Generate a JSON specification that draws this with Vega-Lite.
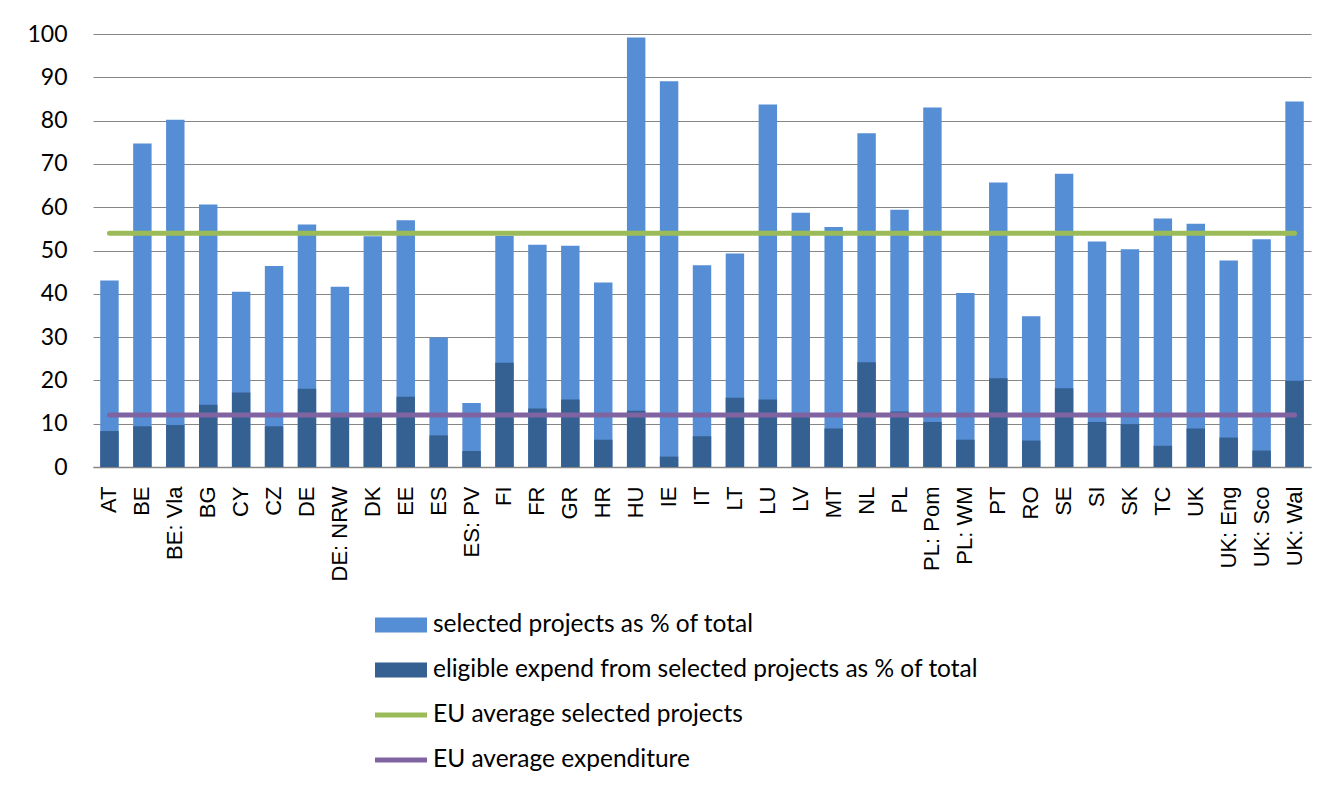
{
  "$schema": "https://vega.github.io/schema/vega-lite/v6.json",
  "autosize": {"type": "none"},
  "width": 1218,
  "height": 433,
  "padding": {"left": 93, "top": 34, "right": 33, "bottom": 333},
  "background": "white",
  "config": {
    "view": {"stroke": null},
    "axis": {"labelFont": "Lato", "labelColor": "#000000"},
    "legend": {"labelFont": "Lato"}
  },
  "data": {
    "values": [
      {"region": "AT", "selected": 43.1, "eligible": 8.3, "eu_selected": 54, "eu_expend": 12},
      {"region": "BE", "selected": 74.7, "eligible": 9.4, "eu_selected": 54, "eu_expend": 12},
      {"region": "BE: Vla", "selected": 80.2, "eligible": 9.7, "eu_selected": 54, "eu_expend": 12},
      {"region": "BG", "selected": 60.6, "eligible": 14.4, "eu_selected": 54, "eu_expend": 12},
      {"region": "CY", "selected": 40.5, "eligible": 17.2, "eu_selected": 54, "eu_expend": 12},
      {"region": "CZ", "selected": 46.4, "eligible": 9.4, "eu_selected": 54, "eu_expend": 12},
      {"region": "DE", "selected": 56.0, "eligible": 18.1, "eu_selected": 54, "eu_expend": 12},
      {"region": "DE: NRW", "selected": 41.6, "eligible": 11.8, "eu_selected": 54, "eu_expend": 12},
      {"region": "DK", "selected": 53.3, "eligible": 11.8, "eu_selected": 54, "eu_expend": 12},
      {"region": "EE", "selected": 57.0, "eligible": 16.2, "eu_selected": 54, "eu_expend": 12},
      {"region": "ES", "selected": 29.9, "eligible": 7.3, "eu_selected": 54, "eu_expend": 12},
      {"region": "ES: PV", "selected": 14.8, "eligible": 3.7, "eu_selected": 54, "eu_expend": 12},
      {"region": "FI", "selected": 53.4, "eligible": 24.1, "eu_selected": 54, "eu_expend": 12},
      {"region": "FR", "selected": 51.3, "eligible": 13.5, "eu_selected": 54, "eu_expend": 12},
      {"region": "GR", "selected": 51.1, "eligible": 15.6, "eu_selected": 54, "eu_expend": 12},
      {"region": "HR", "selected": 42.6, "eligible": 6.3, "eu_selected": 54, "eu_expend": 12},
      {"region": "HU", "selected": 99.2, "eligible": 13.0, "eu_selected": 54, "eu_expend": 12},
      {"region": "IE", "selected": 89.1, "eligible": 2.4, "eu_selected": 54, "eu_expend": 12},
      {"region": "IT", "selected": 46.6, "eligible": 7.1, "eu_selected": 54, "eu_expend": 12},
      {"region": "LT", "selected": 49.3, "eligible": 16.0, "eu_selected": 54, "eu_expend": 12},
      {"region": "LU", "selected": 83.7, "eligible": 15.6, "eu_selected": 54, "eu_expend": 12},
      {"region": "LV", "selected": 58.7, "eligible": 11.8, "eu_selected": 54, "eu_expend": 12},
      {"region": "MT", "selected": 55.4, "eligible": 8.9, "eu_selected": 54, "eu_expend": 12},
      {"region": "NL", "selected": 77.1, "eligible": 24.2, "eu_selected": 54, "eu_expend": 12},
      {"region": "PL", "selected": 59.4, "eligible": 12.8, "eu_selected": 54, "eu_expend": 12},
      {"region": "PL: Pom", "selected": 83.0, "eligible": 10.4, "eu_selected": 54, "eu_expend": 12},
      {"region": "PL: WM", "selected": 40.2, "eligible": 6.3, "eu_selected": 54, "eu_expend": 12},
      {"region": "PT", "selected": 65.7, "eligible": 20.5, "eu_selected": 54, "eu_expend": 12},
      {"region": "RO", "selected": 34.8, "eligible": 6.1, "eu_selected": 54, "eu_expend": 12},
      {"region": "SE", "selected": 67.7, "eligible": 18.2, "eu_selected": 54, "eu_expend": 12},
      {"region": "SI", "selected": 52.1, "eligible": 10.4, "eu_selected": 54, "eu_expend": 12},
      {"region": "SK", "selected": 50.3, "eligible": 9.9, "eu_selected": 54, "eu_expend": 12},
      {"region": "TC", "selected": 57.4, "eligible": 4.9, "eu_selected": 54, "eu_expend": 12},
      {"region": "UK", "selected": 56.2, "eligible": 8.9, "eu_selected": 54, "eu_expend": 12},
      {"region": "UK: Eng", "selected": 47.7, "eligible": 6.8, "eu_selected": 54, "eu_expend": 12},
      {"region": "UK: Sco", "selected": 52.6, "eligible": 3.8, "eu_selected": 54, "eu_expend": 12},
      {"region": "UK: Wal", "selected": 84.4, "eligible": 19.9, "eu_selected": 54, "eu_expend": 12}
    ]
  },
  "encoding": {
    "x": {
      "field": "region",
      "type": "nominal",
      "sort": null,
      "scale": {"paddingInner": 0.44, "paddingOuter": 0.22},
      "axis": {
        "title": null,
        "labelAngle": -90,
        "labelFont": "Liberation Sans",
        "labelFontSize": 22,
        "labelPadding": 19,
        "ticks": false,
        "domainColor": "#868686",
        "domainWidth": 1.5,
        "grid": false
      }
    }
  },
  "layer": [
    {
      "mark": {"type": "bar"},
      "encoding": {
        "y": {
          "field": "selected",
          "type": "quantitative",
          "scale": {"domain": [0, 100], "nice": false},
          "axis": {
            "title": null,
            "values": [0, 10, 20, 30, 40, 50, 60, 70, 80, 90, 100],
            "labelFontSize": 23,
            "labelPadding": 26,
            "ticks": false,
            "domain": false,
            "grid": true,
            "gridColor": "#868686",
            "gridWidth": 1.2
          }
        },
        "color": {
          "datum": "selected projects as % of total",
          "type": "nominal",
          "scale": {
            "domain": [
              "selected projects as % of total",
              "eligible expend from selected projects as % of total",
              "EU average selected projects",
              "EU average expenditure"
            ],
            "range": ["#558ED5", "#356092", "#9BBB59", "#8064A2"]
          },
          "legend": {
            "title": null,
            "orient": "none",
            "legendX": 282,
            "legendY": 579,
            "padding": 0,
            "labelFontSize": 24.5,
            "labelColor": "#000000",
            "labelOffset": 6,
            "labelLimit": 2000,
            "symbolSize": 2704,
            "clipHeight": 24,
            "rowPadding": 20,
            "encode": {
              "symbols": {
                "update": {
                  "shape": {"signal": "datum.index < 2 ? 'M-1,-0.29H1V0.29H-1Z' : 'M-1,-0.1H1V0.1H-1Z'"},
                  "fill": {"scale": "color", "field": "value"},
                  "fillOpacity": {"value": 1},
                  "stroke": {"value": "transparent"},
                  "strokeWidth": {"value": 0}
                }
              }
            }
          }
        }
      }
    },
    {
      "mark": {"type": "bar"},
      "encoding": {
        "y": {"field": "eligible", "type": "quantitative"},
        "color": {"datum": "eligible expend from selected projects as % of total", "type": "nominal"}
      }
    },
    {
      "mark": {"type": "line", "strokeWidth": 5, "strokeCap": "round"},
      "encoding": {
        "y": {"field": "eu_selected", "type": "quantitative"},
        "color": {"datum": "EU average selected projects", "type": "nominal"}
      }
    },
    {
      "mark": {"type": "line", "strokeWidth": 5, "strokeCap": "round"},
      "encoding": {
        "y": {"field": "eu_expend", "type": "quantitative"},
        "color": {"datum": "EU average expenditure", "type": "nominal"}
      }
    }
  ]
}
